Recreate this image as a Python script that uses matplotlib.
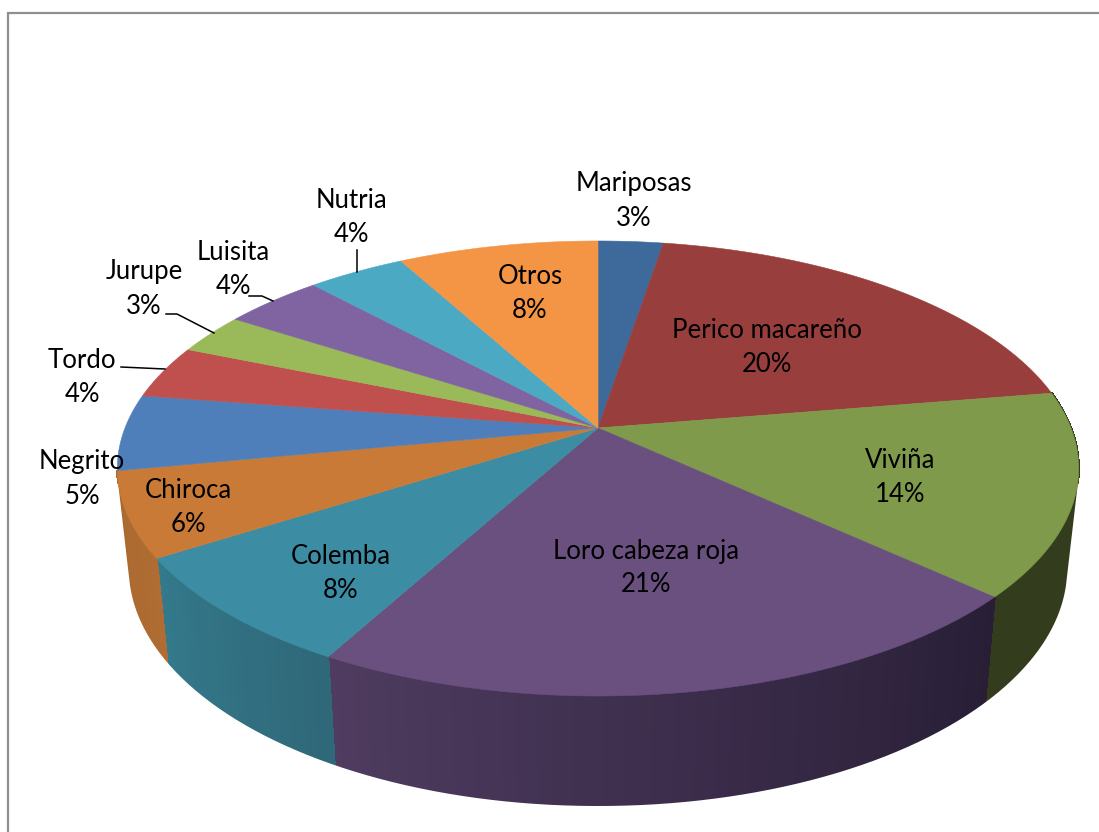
import numpy as np
import matplotlib
matplotlib.use("Agg")
import matplotlib.pyplot as plt
from matplotlib.collections import PolyCollection
from matplotlib.colors import to_rgb

# Data
names = ["Mariposas", "Perico macareño", "Viviña", "Loro cabeza roja", "Colemba", "Chiroca",
         "Negrito", "Tordo", "Jurupe", "Luisita", "Nutria", "Otros"]
values = [2.6, 19.8, 14.4, 21.2, 8.0, 6.0, 5.4, 3.8, 2.9, 4.0, 3.9, 8.0]
top_colors = ["#3d6a9b", "#983e3c", "#7e9a4a", "#69507f", "#3c8ca3", "#c97a37",
              "#4f7fba", "#bf504d", "#9aba59", "#8064a2", "#4ba9c4", "#f49545"]
# Only these slices show a side wall
wall_slices = [2, 3, 4, 5]
wall_left = {2: "#333c1c", 3: "#4f3c60", 4: "#347a8c", 5: "#a96a30"}
wall_right = {2: "#333c1c", 3: "#281e36", 4: "#2f6878", 5: "#b06c32"}

# Label centres (x, y of first line) in picture pixels
label_xy = [(634, 184), (767, 330), (900, 460), (646, 551), (341, 556), (188, 490),
            (82, 462), (82, 360), (144, 272), (233, 253), (351, 200), (530, 276)]
leaders = [[(121, 367), (165, 369)],
           [(166, 314), (177, 314), (214, 333)],
           [(249, 296), (262, 296), (273, 301)],
           [(357, 250), (357, 272)]]

# Perspective of the disc
CX, CY = 598, 428
RX, RY, K = 473, 220.3, 0.178


def top_point(theta):
    x = np.sin(theta)
    y = np.cos(theta)
    s = 1 / (1 + K * y)
    return CX + RX * x * s, CY - RY * y * s


def bottom_point(theta):
    x, y = top_point(theta)
    return CX + 0.976 * (x - CX), 524.5 + 1.05 * (y - CY)


fig = plt.figure(figsize=(10.99, 8.32), dpi=100)
ax = fig.add_axes([0, 0, 1, 1])
ax.set_xlim(0, 1099)
ax.set_ylim(832, 0)
ax.axis("off")
plt.rcParams['font.family'] = ['Lato', 'DejaVu Sans']

# Frame
ax.plot([8, 8, 1099], [832, 13, 13], color="#8f8f8f", lw=1.6, solid_joinstyle="miter")

edges = np.cumsum([0] + values) / sum(values) * 2 * np.pi

# Side wall. Not antialiased so the strips leave no seams
polys = []
cols = []
for i in wall_slices:
    t = np.linspace(edges[i], edges[i + 1], max(int(values[i] * 5), 4))
    for a, b in zip(t[:-1], t[1:]):
        xa, ya = top_point(a)
        xb, yb = top_point(b)
        xc, yc = bottom_point(b)
        xd, yd = bottom_point(a)
        f = (a - edges[i]) / (edges[i + 1] - edges[i])
        col = np.array(to_rgb(wall_right[i])) * (1 - f) + np.array(to_rgb(wall_left[i])) * f
        polys.append([(xa, ya), (xb, yb), (xc, yc), (xd, yd)])
        cols.append(col)
ax.add_collection(PolyCollection(polys, facecolors=cols, edgecolors=cols, linewidths=1.0,
                                 antialiaseds=False, zorder=2))

# White stroke smooths the jagged outline of the wall
ta = np.radians(104)
tb = np.radians(256)
rim = np.linspace(ta, tb, 300)
rx, ry = bottom_point(rim)
out_x = np.concatenate(([top_point(ta)[0]], rx, [top_point(tb)[0]]))
out_y = np.concatenate(([top_point(ta)[1]], ry, [top_point(tb)[1]]))
ax.plot(out_x + 1.0 * np.sign(out_x - CX), out_y + 1.0, color="white", lw=1.3, zorder=2.5)

for i in range(len(values)):
    t = np.linspace(edges[i], edges[i + 1], 80)
    xs, ys = top_point(t)
    pts = [(CX, CY)] + list(zip(xs, ys))
    ax.fill(*zip(*pts), color=top_colors[i], lw=0.4, zorder=3)

for line in leaders:
    ax.plot(*zip(*line), color="black", lw=1.1, zorder=4)

for i, name in enumerate(names):
    x, y = label_xy[i]
    ax.text(x, y, name, ha="center", va="center", fontsize=18.5, color="black", zorder=5)
    ax.text(x, y + 34, f"{round(values[i])}%", ha="center", va="center", fontsize=18.5,
            color="black", zorder=5)

plt.savefig("out.png", dpi=100)
plt.close()
